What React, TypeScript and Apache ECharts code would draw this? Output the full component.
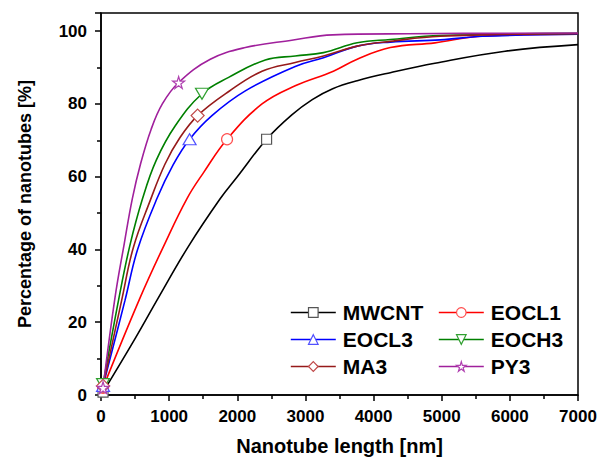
import React, { useEffect, useRef } from "react";
import * as echarts from "echarts";

const seriesNames = ["MWCNT", "EOCL1", "EOCL3", "EOCH3", "MA3", "PY3"];

const mwcntX = [30, 500, 841, 1281, 1751, 2000, 2430, 2800, 3100, 3400, 3760, 4245, 4900, 5930, 7000];
const mwcntY = [0.8, 15.5, 26.7, 40.8, 54, 60, 70.3, 77, 81.2, 84.2, 86.4, 88.6, 91.2, 94.5, 96.3];

const eocl1X = [30, 573, 939, 1262, 1500, 1850, 2363, 2850, 3410, 3760, 4245, 4900, 5567, 7000];
const eocl1Y = [2, 26.7, 41.7, 54, 61, 70.3, 80, 85, 89, 92.3, 95.5, 96.8, 98.6, 99.2];

const eocl3X = [30, 352, 537, 821, 1060, 1300, 1628, 2118, 2850, 3265, 3760, 4245, 4980, 5600, 7000];
const eocl3Y = [2.5, 26, 40, 54, 63.3, 70.3, 76.8, 83.6, 90.3, 92.7, 95.9, 97, 97.6, 98.6, 99.2];

const eoch3X = [30, 264, 425, 610, 810, 1090, 1482, 1873, 2411, 2850, 3265, 3760, 4245, 4980, 7000];
const eoch3Y = [3, 26.7, 41.2, 54, 64.5, 74, 82.8, 87.3, 92.1, 93.2, 94.1, 96.8, 97.7, 98.8, 99.4];

const ma3X = [30, 303, 474, 723, 940, 1150, 1418, 1880, 2363, 2850, 3265, 3760, 4245, 4980, 7000];
const ma3Y = [2.5, 26, 40.5, 53.5, 63.5, 70.5, 76.8, 83.5, 89, 91.4, 93.2, 95.9, 97.2, 98.6, 99.3];

const py3X = [30, 205, 342, 460, 580, 735, 900, 1139, 1604, 2118, 2800, 3400, 4500, 7000];
const py3Y = [2, 26.7, 41.7, 54, 63.5, 73, 80, 85.9, 92.3, 95.5, 97.5, 99, 99.3, 99.5];

// index of the data point that carries the visible marker
const markerIndex = [6, 5, 5, 6, 6, 7];

const xTicks = [0, 1000, 2000, 3000, 4000, 5000, 6000, 7000];
const yTicks = [0, 20, 40, 60, 80, 100];

const lineColors = ["#000000", "#ff0000", "#0000ff", "#008000", "#961a1a", "#a0209c"];
const markerColors = ["#555555", "#ff5050", "#5050ff", "#30a030", "#c04848", "#b040b0"];
const symbols = [
  "rect",
  "circle",
  "path://M50,0 L100,87 L0,87 Z",
  "path://M0,0 L100,0 L50,87 Z",
  "diamond",
  "path://M50,0 L61,35 L98,35 L68,57 L79,91 L50,70 L21,91 L32,57 L2,35 L39,35 Z",
];
const symbolSizes: any[] = [10, 11, [13, 11], [13, 11], 13, 12];

const allX = [mwcntX, eocl1X, eocl3X, eoch3X, ma3X, py3X];
const allY = [mwcntY, eocl1Y, eocl3Y, eoch3Y, ma3Y, py3Y];

const FONT = "'Liberation Sans', Arial, sans-serif";

export default function App() {
  const ref = useRef<HTMLDivElement>(null);
  useEffect(() => {
    if (!ref.current) return;
    const chart = echarts.init(ref.current, undefined, { renderer: "svg" });
    const markerStyle = (i: number) => ({
      color: "#ffffff",
      borderColor: markerColors[i],
      borderWidth: 1.2,
    });
    const series = seriesNames.map((name, i) => ({
      name,
      type: "line",
      smooth: 0.4,
      showSymbol: true,
      showAllSymbol: true,
      symbol: symbols[i],
      symbolSize: symbolSizes[i],
      lineStyle: { color: lineColors[i], width: 1.6 },
      itemStyle: markerStyle(i),
      data: allX[i].map((x, j) => {
        const show = j === 0 || j === markerIndex[i];
        return show ? { value: [x, allY[i][j]] } : { value: [x, allY[i][j]], symbol: "none" };
      }),
      z: 2,
    }));
    const legendItem = (name: string) => {
      const i = seriesNames.indexOf(name);
      return { name, itemStyle: markerStyle(i), lineStyle: { color: lineColors[i], width: 1.6 } };
    };
    const legendCommon = {
      orient: "vertical",
      padding: 0,
      itemWidth: 45,
      itemHeight: 12,
      itemGap: 6,
      textStyle: {
        fontFamily: FONT,
        fontWeight: "bold",
        fontSize: 21,
        color: "#000",
        lineHeight: 21,
        padding: [0, 0, 0, 2],
      },
      selectedMode: false,
    };
    chart.setOption({
      animation: false,
      backgroundColor: "#fff",
      grid: {
        left: 101,
        right: 22,
        top: 13,
        bottom: 63,
        show: true,
        borderColor: "#000",
        borderWidth: 1.5,
        backgroundColor: "transparent",
      },
      legend: [
        { ...legendCommon, left: 290, top: 302, data: ["MWCNT", "EOCL3", "MA3"].map(legendItem) },
        { ...legendCommon, left: 438, top: 302, data: ["EOCL1", "EOCH3", "PY3"].map(legendItem) },
      ],
      xAxis: {
        type: "value",
        min: xTicks[0],
        max: xTicks[xTicks.length - 1],
        interval: 1000,
        name: "Nanotube length [nm]",
        nameLocation: "middle",
        nameGap: 41,
        nameTextStyle: { fontFamily: FONT, fontWeight: "bold", fontSize: 20, color: "#000" },
        axisLine: { show: true, lineStyle: { color: "#000", width: 1.5 } },
        axisTick: { show: true, inside: false, length: 6, lineStyle: { color: "#000", width: 1.5 } },
        minorTick: { show: true, splitNumber: 2, length: 4, lineStyle: { color: "#000", width: 1.5 } },
        splitLine: { show: false },
        axisLabel: {
          fontFamily: FONT,
          fontWeight: "bold",
          fontSize: 17,
          color: "#000",
          margin: 13,
          formatter: (v: number) => String(v),
        },
      },
      yAxis: {
        type: "value",
        min: 0,
        max: 105,
        interval: 20,
        name: "Percentage of nanotubes [%]",
        nameLocation: "middle",
        nameGap: 67,
        nameTextStyle: { fontFamily: FONT, fontWeight: "bold", fontSize: 18, color: "#000" },
        axisLine: { show: true, lineStyle: { color: "#000", width: 1.5 } },
        axisTick: { show: true, inside: false, length: 6, lineStyle: { color: "#000", width: 1.5 } },
        minorTick: { show: true, splitNumber: 2, length: 4, lineStyle: { color: "#000", width: 1.5 } },
        splitLine: { show: false },
        axisLabel: {
          fontFamily: FONT,
          fontWeight: "bold",
          fontSize: 17,
          color: "#000",
          margin: 14,
          formatter: (v: number) => (yTicks.indexOf(v) >= 0 ? String(v) : ""),
        },
      },
      series,
    });
    return () => chart.dispose();
  }, []);
  return <div ref={ref} style={{ width: 600, height: 461, position: "absolute", left: 0, top: 0 }} />;
}
